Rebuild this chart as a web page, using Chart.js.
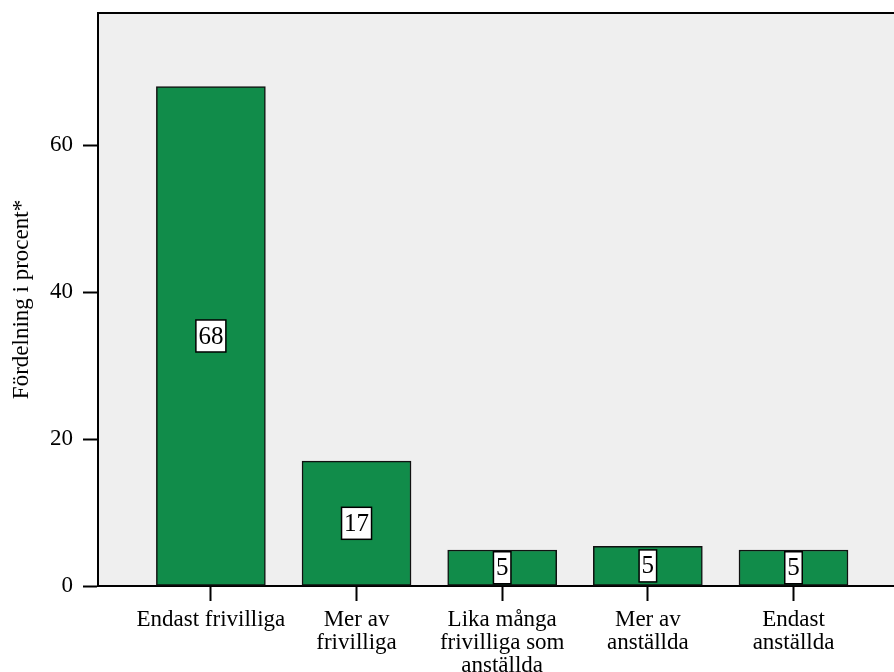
<!DOCTYPE html>
<html>
<head>
<meta charset="utf-8">
<script src="https://cdn.jsdelivr.net/npm/chart.js@4"></script>
<style>
  html, body { margin: 0; padding: 0; background: #fff; }
  #wrap { width: 894px; height: 672px; }
</style>
</head>
<body>
<div id="wrap"><canvas id="chart" width="894" height="672"></canvas></div>
<script>
// -- Data --
const categories = [
    ['Endast frivilliga'],
    ['Mer av', 'frivilliga'],
    ['Lika många', 'frivilliga som', 'anställda'],
    ['Mer av', 'anställda'],
    ['Endast', 'anställda']
];
const percentValues = [68, 17, 4.9, 5.4, 4.9];
const barLabels = ['68', '17', '5', '5', '5'];
const yTicks = [0, 20, 40, 60];

const serif = '"Liberation Serif", "Times New Roman", serif';

// -- Plot background + top border --
const plotFrame = {
    id: 'plotFrame',
    beforeDraw(chart) {
        const { ctx, chartArea: a } = chart;
        ctx.save();
        ctx.fillStyle = '#efefef';
        ctx.fillRect(a.left, a.top, a.right - a.left, a.bottom - a.top);
        ctx.strokeStyle = '#000';
        ctx.lineWidth = 2;
        ctx.beginPath();
        ctx.moveTo(a.left, a.top);
        ctx.lineTo(a.right, a.top);
        ctx.stroke();
        ctx.restore();
    }
};

// -- Value labels in white boxes --
const boxLabels = {
    id: 'boxLabels',
    afterDatasetsDraw(chart) {
        const { ctx } = chart;
        const meta = chart.getDatasetMeta(0);
        ctx.save();
        ctx.font = '25px ' + serif;
        ctx.textAlign = 'center';
        ctx.textBaseline = 'middle';
        meta.data.forEach((bar, i) => {
            const txt = barLabels[i];
            const cy = (bar.y + bar.base) / 2;
            const w = ctx.measureText(txt).width + 5;
            const h = 32;
            ctx.fillStyle = '#fff';
            ctx.fillRect(bar.x - w / 2, cy - h / 2, w, h);
            ctx.strokeStyle = '#000';
            ctx.lineWidth = 1.5;
            ctx.strokeRect(bar.x - w / 2, cy - h / 2, w, h);
            ctx.fillStyle = '#000';
            ctx.fillText(txt, bar.x, cy + 1);
        });
        ctx.restore();
    }
};

new Chart(document.getElementById('chart'), {
    type: 'bar',
    data: {
        datasets: [{
            data: percentValues.map((v, i) => ({ x: i, y: v })),
            backgroundColor: '#118c4a',
            borderColor: '#111',
            borderWidth: 1.5,
            borderSkipped: false,
            barThickness: 109
        }]
    },
    options: {
        responsive: false,
        animation: false,
        layout: { padding: { top: 13, right: 0, left: 0, bottom: 0 } },
        plugins: { legend: { display: false }, tooltip: { enabled: false } },
        scales: {
            x: {
                type: 'linear',
                offset: false,
                min: -0.775,
                max: 4.69,
                afterBuildTicks(scale) {
                    scale.ticks = categories.map((c, i) => ({ value: i }));
                },
                afterFit(scale) {
                    scale.height = 86;
                    scale.paddingLeft = 0;
                    scale.paddingRight = 0;
                },
                grid: { offset: false, drawOnChartArea: false, tickLength: 15, tickColor: '#000', tickWidth: 2 },
                border: { display: true, color: '#000', width: 2 },
                ticks: {
                    color: '#000',
                    font: { family: serif, size: 23, lineHeight: 1.0 },
                    padding: 7,
                    maxRotation: 0,
                    autoSkip: false,
                    callback: (v) => categories[v]
                }
            },
            y: {
                min: 0,
                max: 78,
                afterBuildTicks(scale) {
                    scale.ticks = yTicks.map(v => ({ value: v }));
                },
                afterFit(scale) {
                    scale.width = 98;
                    scale.paddingTop = 0;
                    scale.paddingBottom = 0;
                },
                grid: { drawOnChartArea: false, tickLength: 15, tickColor: '#000', tickWidth: 2 },
                border: { display: true, color: '#000', width: 2 },
                ticks: {
                    color: '#000',
                    font: { family: serif, size: 23 },
                    padding: 10
                },
                title: {
                    display: true,
                    text: 'Fördelning i procent*',
                    color: '#000',
                    font: { family: serif, size: 23 },
                    padding: { top: 8, bottom: 10 }
                }
            }
        }
    },
    plugins: [plotFrame, boxLabels]
});
</script>
</body>
</html>
